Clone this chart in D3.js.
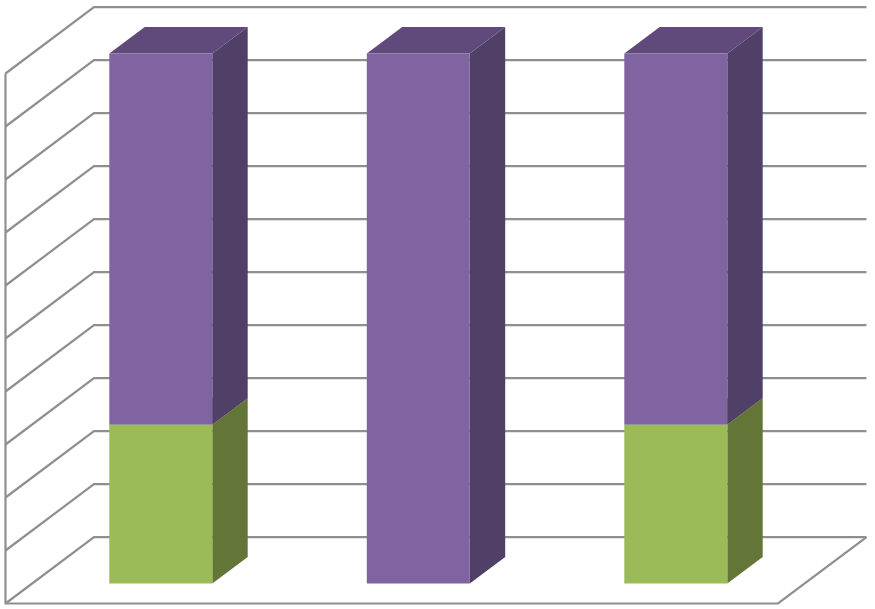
<!DOCTYPE html>
<html><head><meta charset="utf-8">
<style>html,body{margin:0;padding:0;background:#fff}svg{display:block}</style>
<script src="https://cdn.jsdelivr.net/npm/d3@7/dist/d3.min.js"></script>
</head><body><svg id="c" width="875" height="609"></svg>
<script>
const categories = ["1", "2", "3"];
const seriesGreen = [30, 0, 30];
const seriesPurple = [70, 100, 70];
const yTicks = [0,10,20,30,40,50,60,70,80,90,100];

const svg = d3.select("#c");
const x = d3.scaleBand().domain(categories).range([5.5, 778]).paddingInner(0.6).paddingOuter(0.3);
const y = d3.scaleLinear().domain([0, 100]).range([603.5, 73.5]);
// depth runs from the front plane (0) to the back wall (1)
const dX = d3.scaleLinear().domain([0, 1]).range([0, 88.5]);
const dY = d3.scaleLinear().domain([0, 1]).range([0, -66.4]);
const P = (px, py, d) => [px + dX(d), py + dY(d)];
const line = d3.line();
const gridColor = "#8f8f8f";

const grid = svg.append("g").attr("fill", "none").attr("stroke", gridColor).attr("stroke-width", 2.2);
yTicks.forEach(t => {
  grid.append("path").attr("d", line([P(x.range()[0], y(t), 0), P(x.range()[0], y(t), 1), P(x.range()[1], y(t), 1)]));
});
grid.append("path").attr("d", line([[x.range()[0], y(100)], [x.range()[0], y(0)], [x.range()[1], y(0)], P(x.range()[1], y(0), 1)]));

const stacks = [
  {values: seriesGreen, front: "#9BBB59", side: "#637637", top: "#7C964A", base: () => 0},
  {values: seriesPurple, front: "#8064A2", side: "#503F67", top: "#604A7B", base: i => seriesGreen[i]}
];
const d0 = 0.3, d1 = 0.7;
const poly = pts => "M" + pts.map(p => p.join(",")).join("L") + "Z";
categories.forEach((c, i) => {
  const xl = x(c), xr = xl + x.bandwidth();
  stacks.forEach(s => {
    const v = s.values[i];
    if (!v) return;
    const b = y(s.base(i)), t = y(s.base(i) + v);
    const g = svg.append("g");
    g.append("path").attr("fill", s.side).attr("d", poly([P(xr, b, d0), P(xr, b, d1), P(xr, t, d1), P(xr, t, d0)]));
    g.append("path").attr("fill", s.top).attr("d", poly([P(xl, t, d0), P(xl, t, d1), P(xr, t, d1), P(xr, t, d0)]));
    g.append("path").attr("fill", s.front).attr("d", poly([P(xl, b, d0), P(xr, b, d0), P(xr, t, d0), P(xl, t, d0)]));
  });
});
</script></body></html>
